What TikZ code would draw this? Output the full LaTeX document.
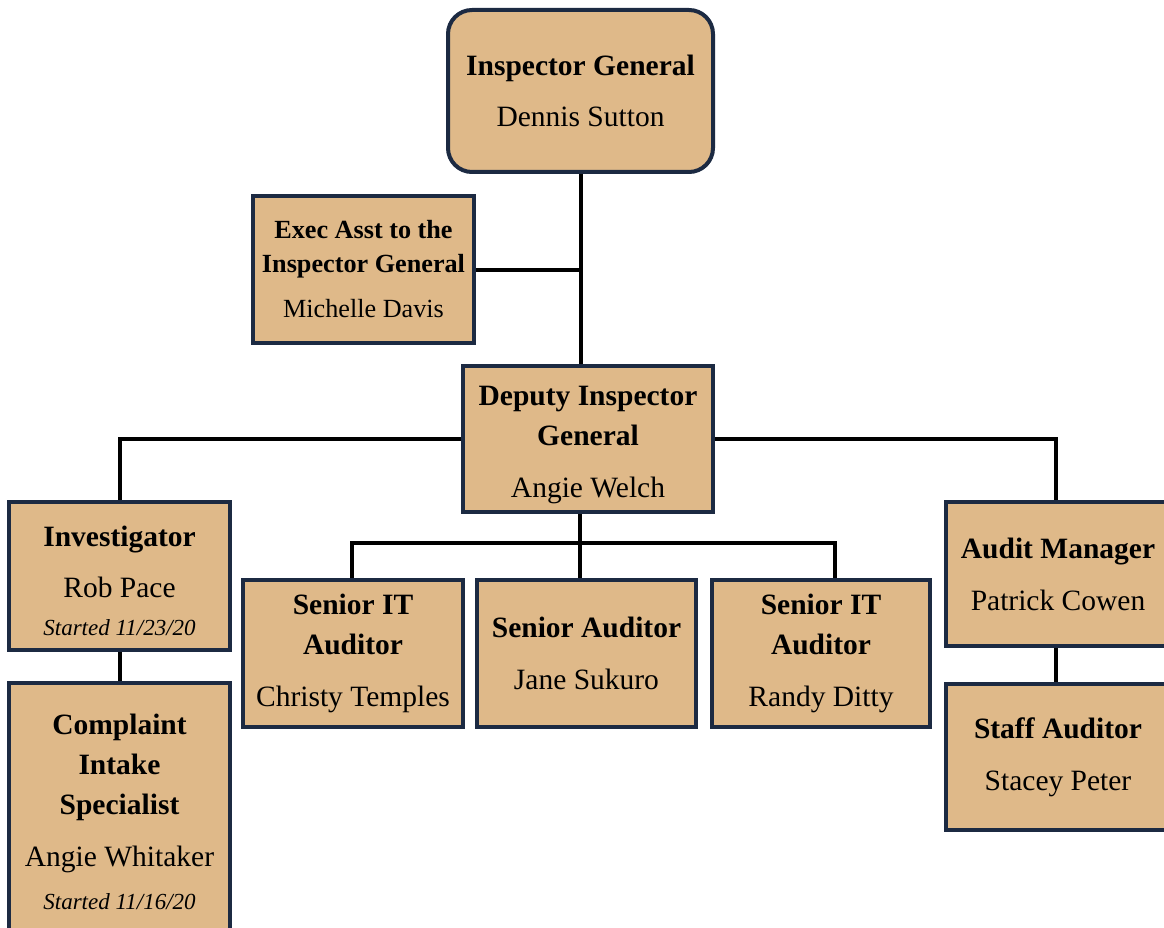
\documentclass[tikz,border=0pt]{standalone}
\usepackage{fontspec}
\setmainfont{Liberation Serif}
\usetikzlibrary{positioning}
\definecolor{boxtan}{RGB}{223,185,137}
\definecolor{boxnavy}{RGB}{28,42,66}

\begin{document}
\begin{tikzpicture}[x=1pt, y=-1pt, node distance=100pt, on grid]
\tikzstyle{every node}=[font=\fontsize{29.5}{40}\selectfont]
\tikzstyle{box}=[rectangle, draw=boxnavy, line width=4pt, fill=boxtan, align=center, inner sep=0pt]
\tikzstyle{link}=[draw=black, line width=4pt]
\useasboundingbox (0,0) rectangle (1164,928);
   \node[box, rounded corners=24pt, minimum width=265pt, minimum height=162pt](ig) at (580.5,91){\textbf{Inspector General}\\[11pt]Dennis Sutton};
   \node[box, minimum width=221pt, minimum height=147pt, font=\fontsize{26.2}{34}\selectfont](exec)[below left=178.5pt and 217pt of ig]{\textbf{Exec Asst to the}\\\textbf{Inspector General}\\[11pt]Michelle Davis};
   \node[box, minimum width=250pt, minimum height=146pt](dep)[below right=348pt and 7.5pt of ig]{\rule{0pt}{31pt}\textbf{Deputy Inspector}\\\textbf{General}\\[12pt]Angie Welch};
   \node[box, minimum width=221pt, minimum height=148pt](inv)[below left=137pt and 468.5pt of dep]{\rule{0pt}{31pt}\textbf{Investigator}\\[11pt]Rob Pace\\[-2pt]{\fontsize{23}{25}\selectfont\itshape Started 11/23/20}};
   \node[box, minimum width=221pt, minimum height=257pt](comp)[below=235.5pt of inv]{\textbf{Complaint}\\\textbf{Intake}\\\textbf{Specialist}\\[12pt]Angie Whitaker\\[3pt]{\fontsize{23}{25}\selectfont\itshape Started 11/16/20}};
   \node[box, minimum width=219pt, minimum height=147pt](jane)[below left=214.5pt and 1.5pt of dep]{\textbf{Senior Auditor}\\[12pt]Jane Sukuro};
   \node[box, minimum width=220pt, minimum height=147pt](christy)[left=233.5pt of jane]{\textbf{Senior IT}\\\textbf{Auditor}\\[12pt]Christy Temples};
   \node[box, minimum width=218pt, minimum height=147pt](randy)[right=234.5pt of jane]{\textbf{Senior IT}\\\textbf{Auditor}\\[12pt]Randy Ditty};
   \node[box, minimum width=224pt, minimum height=144pt](aud)[below right=135pt and 470pt of dep]{\textbf{Audit Manager}\\[12pt]Patrick Cowen};
   \node[box, minimum width=224pt, minimum height=146pt](staff)[below=183pt of aud]{\textbf{Staff Auditor}\\[12pt]Stacey Peter};
   \coordinate (bus) at (580,543);
   \path[link](ig.south) -- (ig.south |- dep.north);
   \path[link](exec.east) -- (exec.east -| ig.south);
   \path[link](dep.west) -| (inv.north);
   \path[link](dep.east) -| ([xshift=-2pt]aud.north);
   \path[link](inv.south) -- (comp.north);
   \path[link]([xshift=-2pt]aud.south) -- ([xshift=-2pt]staff.north);
   \path[link](bus |- dep.south) -- (bus |- jane.north);
   \path[link]([xshift=-1pt]christy.north) |- (bus) -| ([xshift=14pt]randy.north);
\end{tikzpicture}
\end{document}
